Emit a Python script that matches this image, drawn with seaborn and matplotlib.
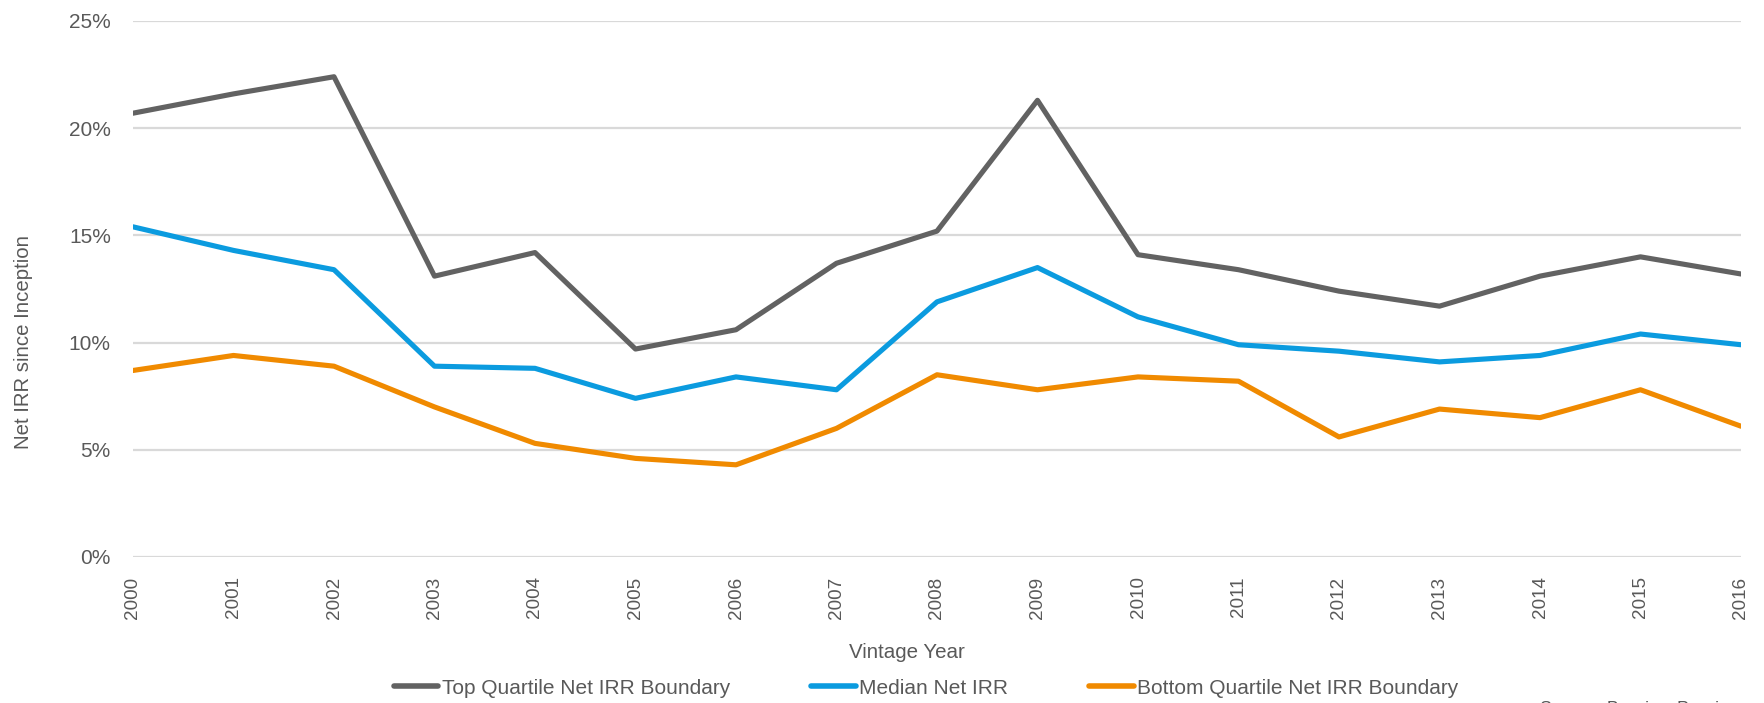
import matplotlib
matplotlib.use("Agg")
import matplotlib.pyplot as plt
import seaborn as sns
import pandas as pd
from matplotlib.ticker import FuncFormatter

# Vintage years and net IRR (%) by quartile boundary
years = list(range(2000, 2017))
top_quartile = [20.7, 21.6, 22.4, 13.1, 14.2, 9.7, 10.6, 13.7, 15.2, 21.3,
                14.1, 13.4, 12.4, 11.7, 13.1, 14.0, 13.2]
median_irr = [15.4, 14.3, 13.4, 8.9, 8.8, 7.4, 8.4, 7.8, 11.9, 13.5,
              11.2, 9.9, 9.6, 9.1, 9.4, 10.4, 9.9]
bottom_quartile = [8.7, 9.4, 8.9, 7.0, 5.3, 4.6, 4.3, 6.0, 8.5, 7.8,
                   8.4, 8.2, 5.6, 6.9, 6.5, 7.8, 6.1]

series_names = ["Top Quartile Net IRR Boundary", "Median Net IRR",
                "Bottom Quartile Net IRR Boundary"]
series_colors = ["#626262", "#0B9BDF", "#F08A00"]

df = pd.concat([
    pd.DataFrame({"year": years, "irr": vals, "series": name})
    for name, vals in zip(series_names, [top_quartile, median_irr, bottom_quartile])
])

sns.set_theme(style="white")
plt.rcParams["font.family"] = ["Liberation Sans", "DejaVu Sans"]
text_color = "#595959"

fig = plt.figure(figsize=(17.65, 7.03), dpi=100)
ax = fig.add_axes([133 / 1765, 1 - 557 / 703, (1741 - 133) / 1765, (557 - 21) / 703])

sns.lineplot(data=df, x="year", y="irr", hue="series", hue_order=series_names,
             palette=series_colors, linewidth=3.7, ax=ax, legend=False)

ax.set_xlim(2000, 2016)
ax.set_ylim(0, 25)
ax.set_yticks(range(0, 26, 5))
ax.set_xticks(years)
ax.yaxis.set_major_formatter(FuncFormatter(lambda v, _: f"{v:.0f}%"))
ax.grid(axis="y", color="#D9D9D9", linewidth=1.6)
ax.grid(axis="x", visible=False)
ax.set_axisbelow(True)
for s in ax.spines.values():
    s.set_visible(False)

ax.tick_params(axis="y", length=0, pad=16, labelsize=15, labelcolor=text_color)
ax.tick_params(axis="x", length=0, pad=14, labelsize=13.6, labelcolor=text_color,
               labelrotation=90)
ax.set_xlabel("")
ax.set_ylabel("")

fig.text(24 / 1765, 1 - 342 / 703, "Net IRR since Inception", rotation=90,
         ha="center", va="center", fontsize=14.7, color=text_color)
fig.text(907 / 1765, 1 - 652 / 703, "Vintage Year", ha="center", va="center",
         fontsize=14.8, color=text_color)

handles = [plt.Line2D([], [], color=c, linewidth=4, solid_capstyle="round")
           for c in series_colors]
fig.legend(handles, series_names, loc="center", bbox_to_anchor=(926 / 1765, 1 - 688 / 703),
           ncol=3, frameon=False, fontsize=15, handlelength=2.15, handletextpad=0.15,
           columnspacing=3.9, labelcolor=text_color, borderpad=0, borderaxespad=0)

fig.text(1540 / 1765, 1 - 700.5 / 703, "Source: Burgiss, Preqin", ha="left", va="top",
         fontsize=13, color=text_color)

fig.savefig("out.png", dpi=100)
